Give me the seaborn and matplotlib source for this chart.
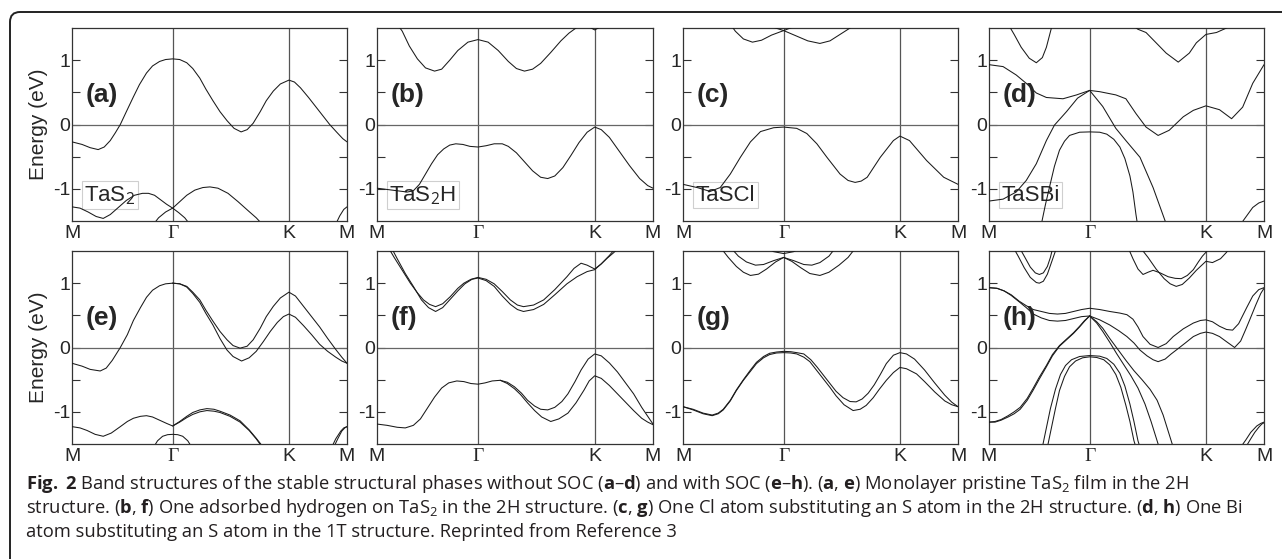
import pandas as pd
import seaborn as sns
import matplotlib.pyplot as plt
from matplotlib.patches import FancyBboxPatch

# camino de alta simetría M-Γ-K-M (distancias en unidades de |ΓM|)
K_TICKS = [0.0, 1.0, 2.155, 2.732]
K_NAMES = ['M', 'Γ', 'K', 'M']
Y_TICKS = [-1, 0, 1]
Y_NAMES = ['-1', '0', '1']

# ---------- (a) TaS2 sin SOC ----------
a_cb = [(0, -0.27), (0.1, -0.31), (0.18, -0.36), (0.26, -0.39), (0.32, -0.35), (0.38, -0.25),
        (0.43, -0.13), (0.48, 0.0), (0.54, 0.2), (0.61, 0.43), (0.67, 0.62), (0.74, 0.80),
        (0.8, 0.91), (0.87, 0.98), (0.93, 1.01), (1.0, 1.02), (1.07, 1.01), (1.14, 0.96),
        (1.2, 0.87), (1.27, 0.72), (1.33, 0.55), (1.40, 0.37), (1.47, 0.2), (1.54, 0.06),
        (1.61, -0.06), (1.68, -0.115), (1.74, -0.08), (1.8, 0.02), (1.87, 0.2), (1.93, 0.37),
        (2.0, 0.52), (2.07, 0.63), (2.155, 0.69), (2.21, 0.66), (2.27, 0.57), (2.35, 0.42),
        (2.42, 0.28), (2.5, 0.12), (2.56, 0.0), (2.63, -0.12), (2.69, -0.22), (2.732, -0.27)]
a_v1 = [(0, -1.28), (0.08, -1.30), (0.16, -1.36), (0.24, -1.43), (0.31, -1.46), (0.38, -1.40),
        (0.46, -1.29), (0.54, -1.18), (0.62, -1.10), (0.7, -1.07), (0.76, -1.07), (0.82, -1.10),
        (0.88, -1.17), (0.94, -1.24), (1.0, -1.30), (1.06, -1.37), (1.12, -1.45), (1.17, -1.55)]
a_v2 = [(0.81, -1.55), (0.86, -1.45), (0.93, -1.36), (1.0, -1.30), (1.07, -1.2), (1.14, -1.1),
        (1.22, -1.02), (1.30, -0.98), (1.37, -0.97), (1.45, -0.99), (1.55, -1.07), (1.65, -1.2),
        (1.75, -1.34), (1.83, -1.45), (1.89, -1.55)]
a_v3 = [(2.62, -1.55), (2.66, -1.42), (2.7, -1.32), (2.732, -1.28)]

# ---------- (b) TaS2H sin SOC ----------
b_vb = [(0, -0.99), (0.1, -1.01), (0.2, -1.03), (0.3, -1.05), (0.36, -1.03), (0.42, -0.93),
        (0.48, -0.77), (0.54, -0.61), (0.6, -0.47), (0.66, -0.38), (0.72, -0.32), (0.78, -0.30),
        (0.85, -0.31), (0.92, -0.34), (1.0, -0.35), (1.08, -0.33), (1.16, -0.30), (1.24, -0.30),
        (1.3, -0.34), (1.38, -0.44), (1.46, -0.58), (1.54, -0.72), (1.62, -0.82), (1.69, -0.84),
        (1.76, -0.80), (1.84, -0.67), (1.92, -0.48), (2.0, -0.28), (2.08, -0.12), (2.155, -0.04),
        (2.22, -0.08), (2.3, -0.2), (2.4, -0.42), (2.5, -0.64), (2.6, -0.84), (2.68, -0.95),
        (2.732, -0.99)]
b_cb = [(0.2, 1.56), (0.25, 1.45), (0.32, 1.22), (0.4, 1.02), (0.48, 0.88), (0.57, 0.83),
        (0.64, 0.86), (0.72, 1.0), (0.8, 1.15), (0.9, 1.28), (1.0, 1.32), (1.1, 1.28), (1.2, 1.15),
        (1.3, 0.98), (1.38, 0.87), (1.46, 0.83), (1.54, 0.86), (1.62, 0.95), (1.72, 1.12),
        (1.82, 1.3), (1.9, 1.42), (1.97, 1.5), (2.02, 1.56)]
b_c2 = [(2.08, 1.56), (2.12, 1.5), (2.155, 1.47), (2.19, 1.5), (2.23, 1.56)]

# ---------- (c) TaSCl sin SOC ----------
c_vb = [(0, -0.93), (0.14, -0.98), (0.27, -1.04), (0.37, -0.98), (0.47, -0.77), (0.57, -0.51),
        (0.67, -0.27), (0.77, -0.11), (0.9, -0.05), (1.0, -0.04), (1.13, -0.06), (1.23, -0.14),
        (1.33, -0.30), (1.43, -0.51), (1.56, -0.77), (1.64, -0.87), (1.71, -0.90), (1.77, -0.88),
        (1.83, -0.82), (1.96, -0.51), (2.09, -0.25), (2.155, -0.18), (2.25, -0.25), (2.42, -0.56),
        (2.59, -0.82), (2.732, -0.93)]
c_c1 = [(0.47, 1.56), (0.52, 1.45), (0.6, 1.33), (0.69, 1.28), (0.78, 1.31), (0.88, 1.39),
        (1.0, 1.46), (1.1, 1.52), (1.16, 1.56)]
c_c2 = [(0.82, 1.56), (0.9, 1.51), (1.0, 1.46), (1.12, 1.38), (1.24, 1.3), (1.36, 1.26),
        (1.46, 1.3), (1.56, 1.4), (1.66, 1.5), (1.7, 1.56)]

# ---------- (d) TaSBi sin SOC ----------
d_b1 = [(0, 0.93), (0.14, 0.90), (0.27, 0.77), (0.37, 0.64), (0.47, 0.49), (0.57, 0.42),
        (0.735, 0.40), (0.87, 0.46), (1.0, 0.53), (1.10, 0.51), (1.26, 0.46), (1.36, 0.40),
        (1.46, 0.17), (1.56, -0.04), (1.68, -0.17), (1.79, -0.09), (1.93, 0.12), (2.03, 0.22),
        (2.155, 0.29), (2.29, 0.23), (2.41, 0.09), (2.52, 0.27), (2.62, 0.64), (2.732, 0.93)]
d_b2 = [(0, -1.19), (0.14, -1.16), (0.27, -1.05), (0.37, -0.87), (0.47, -0.61), (0.57, -0.25),
        (0.65, -0.01), (0.77, 0.20), (0.88, 0.41), (1.0, 0.53), (1.13, 0.28), (1.26, -0.06),
        (1.36, -0.25), (1.50, -0.51), (1.63, -0.98), (1.75, -1.5), (1.76, -1.55)]
d_b3 = [(0.52, -1.55), (0.56, -1.25), (0.6, -0.98), (0.65, -0.65), (0.7, -0.40), (0.75, -0.26),
        (0.8, -0.17), (0.9, -0.12), (1.0, -0.115), (1.1, -0.12), (1.17, -0.15), (1.24, -0.23),
        (1.3, -0.35), (1.35, -0.53), (1.4, -0.8), (1.43, -1.05), (1.46, -1.4), (1.475, -1.55)]
d_b4 = [(0.19, 1.56), (0.25, 1.4), (0.32, 1.2), (0.4, 1.03), (0.47, 0.96), (0.53, 1.04),
        (0.57, 1.2), (0.6, 1.38), (0.63, 1.56)]
d_b5 = [(1.41, 1.56), (1.48, 1.48), (1.56, 1.43), (1.66, 1.27), (1.76, 1.11), (1.88, 0.97),
        (1.99, 1.11), (2.06, 1.27), (2.155, 1.40), (2.26, 1.43), (2.36, 1.5), (2.4, 1.56)]
d_b6 = [(2.5, -1.55), (2.56, -1.42), (2.62, -1.29), (2.68, -1.22), (2.732, -1.19)]

# ---------- (e) TaS2 con SOC ----------
e_left = [(0, -0.245), (0.1, -0.29), (0.18, -0.34), (0.28, -0.365), (0.34, -0.32), (0.4, -0.2),
          (0.48, 0.0), (0.55, 0.2), (0.61, 0.42), (0.68, 0.62), (0.74, 0.78), (0.8, 0.89),
          (0.87, 0.96), (0.93, 0.99), (1.0, 1.0)]
e_A = [(1.0, 1.0), (1.07, 0.99), (1.14, 0.95), (1.2, 0.86), (1.27, 0.74), (1.33, 0.58), (1.4, 0.41),
       (1.47, 0.25), (1.54, 0.12), (1.6, 0.03), (1.67, -0.01), (1.74, 0.02), (1.8, 0.12),
       (1.87, 0.3), (1.93, 0.48), (2.0, 0.64), (2.07, 0.77), (2.155, 0.86), (2.22, 0.8),
       (2.3, 0.64), (2.38, 0.48), (2.46, 0.32), (2.54, 0.14), (2.62, -0.03), (2.68, -0.15),
       (2.732, -0.245)]
e_B = [(1.0, 1.0), (1.07, 0.99), (1.14, 0.94), (1.2, 0.84), (1.27, 0.7), (1.33, 0.53), (1.4, 0.35),
       (1.47, 0.14), (1.54, -0.04), (1.6, -0.14), (1.685, -0.21), (1.76, -0.16), (1.83, -0.06),
       (1.9, 0.09), (1.97, 0.25), (2.04, 0.39), (2.1, 0.48), (2.155, 0.52), (2.22, 0.47),
       (2.3, 0.34), (2.38, 0.2), (2.46, 0.05), (2.54, -0.06), (2.62, -0.15), (2.68, -0.21),
       (2.732, -0.245)]
e_L1 = [(0, -1.23), (0.08, -1.25), (0.15, -1.29), (0.23, -1.35), (0.31, -1.38), (0.39, -1.33),
        (0.48, -1.23), (0.55, -1.15), (0.61, -1.10), (0.68, -1.07), (0.74, -1.06), (0.8, -1.08),
        (0.87, -1.13), (0.94, -1.18), (1.0, -1.22), (1.07, -1.15), (1.14, -1.07), (1.2, -1.01),
        (1.27, -0.97), (1.34, -0.95), (1.41, -0.96), (1.47, -0.99), (1.57, -1.05), (1.67, -1.14),
        (1.76, -1.28), (1.83, -1.41), (1.9, -1.55)]
e_L2 = [(1.0, -1.22), (1.07, -1.16), (1.14, -1.09), (1.2, -1.04), (1.27, -1.0), (1.34, -0.98),
        (1.41, -0.99), (1.47, -1.01), (1.57, -1.07), (1.67, -1.16), (1.76, -1.29), (1.83, -1.42),
        (1.89, -1.55)]
e_cap = [(0.81, -1.55), (0.85, -1.45), (0.9, -1.38), (0.95, -1.355), (1.0, -1.35), (1.05, -1.355),
         (1.1, -1.38), (1.15, -1.45), (1.19, -1.55)]
e_M1 = [(2.58, -1.55), (2.62, -1.42), (2.67, -1.3), (2.7, -1.25), (2.732, -1.23)]
e_M2 = [(2.6, -1.55), (2.64, -1.42), (2.68, -1.3), (2.71, -1.25), (2.732, -1.23)]

# ---------- (f) TaS2H con SOC ----------
f_left = [(0, -1.19), (0.1, -1.21), (0.2, -1.24), (0.28, -1.25), (0.36, -1.21), (0.43, -1.11),
          (0.5, -0.94), (0.57, -0.77), (0.64, -0.63), (0.71, -0.55), (0.79, -0.52), (0.86, -0.53),
          (0.93, -0.56), (1.0, -0.57), (1.07, -0.55), (1.14, -0.52), (1.22, -0.51)]
f_vA = [(1.22, -0.51), (1.29, -0.54), (1.36, -0.61), (1.43, -0.71), (1.49, -0.82), (1.56, -0.91),
        (1.62, -0.96), (1.69, -0.97), (1.76, -0.93), (1.83, -0.84), (1.89, -0.72), (1.96, -0.53),
        (2.02, -0.35), (2.09, -0.18), (2.155, -0.10), (2.22, -0.13), (2.3, -0.24), (2.38, -0.38),
        (2.46, -0.55), (2.54, -0.72), (2.62, -0.93), (2.68, -1.07), (2.732, -1.19)]
f_vB = [(1.22, -0.51), (1.29, -0.56), (1.36, -0.64), (1.42, -0.73), (1.49, -0.86), (1.56, -0.98),
        (1.63, -1.08), (1.72, -1.15), (1.8, -1.11), (1.89, -1.02), (1.97, -0.86), (2.05, -0.66),
        (2.1, -0.52), (2.155, -0.44), (2.22, -0.48), (2.3, -0.59), (2.38, -0.72), (2.46, -0.85),
        (2.54, -0.98), (2.62, -1.1), (2.68, -1.16), (2.732, -1.2)]
f_cA = [(0.11, 1.56), (0.17, 1.4), (0.25, 1.2), (0.33, 1.0), (0.4, 0.85), (0.46, 0.74),
        (0.52, 0.67), (0.58, 0.635), (0.65, 0.68), (0.725, 0.79), (0.8, 0.92), (0.86, 1.0),
        (0.93, 1.06), (1.0, 1.09), (1.08, 1.06), (1.16, 0.99), (1.24, 0.87), (1.32, 0.74),
        (1.39, 0.66), (1.45, 0.635), (1.55, 0.66), (1.65, 0.74), (1.76, 0.9), (1.88, 1.1),
        (1.95, 1.23), (2.02, 1.31), (2.08, 1.28), (2.155, 1.22), (2.22, 1.3), (2.28, 1.39),
        (2.34, 1.47), (2.4, 1.56)]
f_cB = [(0.14, 1.56), (0.2, 1.38), (0.28, 1.15), (0.36, 0.95), (0.44, 0.74), (0.51, 0.62),
        (0.58, 0.56), (0.65, 0.62), (0.725, 0.75), (0.8, 0.88), (0.87, 0.99), (0.94, 1.06),
        (1.0, 1.08), (1.08, 1.04), (1.16, 0.95), (1.24, 0.8), (1.32, 0.67), (1.39, 0.59),
        (1.45, 0.56), (1.55, 0.59), (1.65, 0.67), (1.76, 0.82), (1.88, 0.99), (1.98, 1.1),
        (2.08, 1.18), (2.155, 1.21), (2.22, 1.3), (2.3, 1.43), (2.37, 1.56)]

# ---------- (g) TaSCl con SOC ----------
g_A = [(0, -0.92), (0.1, -0.96), (0.2, -1.02), (0.29, -1.05), (0.35, -1.02), (0.4, -0.96),
       (0.47, -0.82), (0.53, -0.66), (0.6, -0.5), (0.67, -0.35), (0.73, -0.23), (0.8, -0.14),
       (0.86, -0.09), (0.93, -0.07), (1.0, -0.06), (1.07, -0.065), (1.13, -0.08), (1.2, -0.1),
       (1.27, -0.19), (1.33, -0.3), (1.39, -0.42), (1.46, -0.56), (1.52, -0.68), (1.59, -0.78),
       (1.66, -0.84), (1.72, -0.845), (1.78, -0.8), (1.84, -0.71), (1.9, -0.58), (1.96, -0.42),
       (2.02, -0.25), (2.09, -0.12), (2.155, -0.08), (2.22, -0.1), (2.3, -0.18), (2.4, -0.35),
       (2.5, -0.55), (2.6, -0.74), (2.67, -0.85), (2.732, -0.92)]
g_B = [(0, -0.92), (0.1, -0.97), (0.2, -1.03), (0.29, -1.06), (0.35, -1.03), (0.4, -0.97),
       (0.47, -0.83), (0.53, -0.67), (0.6, -0.51), (0.67, -0.37), (0.73, -0.25), (0.8, -0.16),
       (0.86, -0.11), (0.93, -0.085), (1.0, -0.08), (1.07, -0.085), (1.13, -0.1), (1.2, -0.15),
       (1.26, -0.22), (1.33, -0.36), (1.39, -0.48), (1.46, -0.62), (1.52, -0.75), (1.6, -0.89),
       (1.69, -0.98), (1.76, -0.96), (1.82, -0.9), (1.89, -0.78), (1.95, -0.65), (2.02, -0.51),
       (2.09, -0.39), (2.155, -0.31), (2.22, -0.33), (2.32, -0.41), (2.4, -0.53), (2.5, -0.69),
       (2.6, -0.83), (2.67, -0.89), (2.732, -0.92)]
g_c1 = [(0.37, 1.56), (0.45, 1.4), (0.53, 1.26), (0.6, 1.17), (0.67, 1.12), (0.75, 1.14),
        (0.83, 1.22), (0.92, 1.33), (1.0, 1.40), (1.08, 1.34), (1.17, 1.24), (1.26, 1.15),
        (1.36, 1.12), (1.45, 1.17), (1.55, 1.28), (1.64, 1.4), (1.72, 1.56)]
g_c2 = [(0.47, 1.56), (0.55, 1.42), (0.63, 1.33), (0.72, 1.28), (0.8, 1.29), (0.9, 1.35),
        (1.0, 1.40), (1.1, 1.35), (1.2, 1.29), (1.28, 1.28), (1.36, 1.32), (1.45, 1.42),
        (1.52, 1.56)]
g_c3 = [(0.82, 1.56), (0.9, 1.49), (1.0, 1.46), (1.1, 1.49), (1.18, 1.56)]

# ---------- (h) TaSBi con SOC ----------
h_A = [(0, 0.93), (0.08, 0.92), (0.15, 0.88), (0.22, 0.82), (0.3, 0.72), (0.37, 0.65), (0.44, 0.59),
       (0.52, 0.56), (0.6, 0.53), (0.68, 0.52), (0.76, 0.53), (0.84, 0.56), (0.92, 0.59),
       (1.0, 0.61), (1.1, 0.59), (1.2, 0.56), (1.3, 0.535), (1.37, 0.51), (1.43, 0.44),
       (1.48, 0.32), (1.53, 0.17), (1.6, 0.05), (1.68, 0.0), (1.76, 0.06), (1.83, 0.17),
       (1.93, 0.29), (2.03, 0.38), (2.1, 0.42), (2.155, 0.43), (2.22, 0.4), (2.29, 0.33),
       (2.36, 0.28), (2.42, 0.27), (2.48, 0.37), (2.56, 0.62), (2.62, 0.8), (2.68, 0.9),
       (2.732, 0.93)]
h_B = [(0, 0.93), (0.08, 0.92), (0.15, 0.88), (0.22, 0.81), (0.3, 0.71), (0.37, 0.62), (0.44, 0.52),
       (0.52, 0.46), (0.6, 0.42), (0.68, 0.41), (0.76, 0.42), (0.84, 0.45), (0.92, 0.48),
       (1.0, 0.49), (1.1, 0.43), (1.2, 0.35), (1.29, 0.26), (1.37, 0.17), (1.44, 0.07),
       (1.5, -0.04), (1.57, -0.13), (1.63, -0.19), (1.68, -0.22), (1.75, -0.18), (1.81, -0.1),
       (1.86, -0.04), (1.95, 0.07), (2.03, 0.17), (2.1, 0.22), (2.155, 0.24), (2.22, 0.22),
       (2.29, 0.17), (2.36, 0.09), (2.44, 0.0), (2.5, 0.1), (2.55, 0.28), (2.59, 0.43),
       (2.65, 0.66), (2.7, 0.84), (2.732, 0.92)]
h_D1 = [(0, -1.16), (0.06, -1.16), (0.12, -1.13), (0.19, -1.08), (0.25, -1.03), (0.31, -0.96),
        (0.38, -0.82), (0.44, -0.66), (0.5, -0.49), (0.57, -0.3), (0.63, -0.13), (0.7, 0.02),
        (0.77, 0.12), (0.84, 0.22), (0.9, 0.32), (0.95, 0.41), (1.0, 0.49)]
h_D2 = [(0, -1.16), (0.06, -1.15), (0.12, -1.12), (0.19, -1.06), (0.25, -1.0), (0.31, -0.93),
        (0.38, -0.79), (0.44, -0.63), (0.5, -0.46), (0.57, -0.28), (0.63, -0.11), (0.7, 0.03),
        (0.77, 0.13), (0.84, 0.23), (0.9, 0.33), (0.95, 0.42), (1.0, 0.49)]
h_S1 = [(1.0, 0.49), (1.07, 0.38), (1.13, 0.25), (1.2, 0.08), (1.27, -0.1), (1.34, -0.27),
        (1.41, -0.44), (1.48, -0.63), (1.55, -0.88), (1.61, -1.15), (1.66, -1.4), (1.69, -1.55)]
h_S2 = [(1.0, 0.49), (1.07, 0.4), (1.13, 0.3), (1.2, 0.14), (1.28, -0.03), (1.36, -0.2),
        (1.44, -0.36), (1.52, -0.5), (1.6, -0.65), (1.67, -0.82), (1.73, -1.05), (1.78, -1.3),
        (1.83, -1.55)]
h_P1 = [(0.53, -1.55), (0.57, -1.25), (0.61, -0.95), (0.66, -0.65), (0.71, -0.42), (0.76, -0.28),
        (0.82, -0.19), (0.9, -0.14), (1.0, -0.125), (1.1, -0.135), (1.17, -0.17), (1.24, -0.26),
        (1.3, -0.4), (1.35, -0.6), (1.4, -0.88), (1.44, -1.15), (1.48, -1.45), (1.5, -1.55)]
h_P2 = [(0.58, -1.55), (0.62, -1.25), (0.66, -0.95), (0.7, -0.67), (0.75, -0.45), (0.8, -0.3),
        (0.86, -0.21), (0.93, -0.16), (1.0, -0.145), (1.07, -0.155), (1.14, -0.19), (1.2, -0.27),
        (1.26, -0.42), (1.31, -0.62), (1.36, -0.9), (1.4, -1.15), (1.44, -1.45), (1.46, -1.55)]
h_T1 = [(0.24, 1.56), (0.29, 1.42), (0.35, 1.24), (0.41, 1.09), (0.47, 1.01), (0.5, 1.0),
        (0.54, 1.03), (0.58, 1.14), (0.62, 1.32), (0.66, 1.5), (0.67, 1.56)]
h_T2 = [(0.3, 1.56), (0.35, 1.42), (0.41, 1.25), (0.46, 1.16), (0.5, 1.135), (0.54, 1.16),
        (0.58, 1.26), (0.61, 1.4), (0.635, 1.56)]
h_R1 = [(1.38, 1.56), (1.43, 1.38), (1.48, 1.22), (1.53, 1.135), (1.58, 1.17), (1.63, 1.2),
        (1.7, 1.16), (1.78, 1.1), (1.85, 1.075), (1.91, 1.07), (1.97, 1.12), (2.03, 1.21),
        (2.08, 1.33), (2.12, 1.42), (2.155, 1.48), (2.19, 1.56)]
h_R2 = [(1.5, 1.56), (1.58, 1.4), (1.66, 1.22), (1.74, 1.07), (1.8, 0.99), (1.86, 0.95),
        (1.92, 0.98), (1.99, 1.08), (2.06, 1.2), (2.155, 1.34), (2.22, 1.32), (2.3, 1.38),
        (2.36, 1.48), (2.39, 1.56)]
h_M1 = [(2.5, -1.55), (2.55, -1.44), (2.6, -1.32), (2.66, -1.22), (2.7, -1.18), (2.732, -1.16)]
h_M2 = [(2.55, -1.55), (2.6, -1.42), (2.64, -1.32), (2.68, -1.24), (2.71, -1.19), (2.732, -1.17)]

PANELS = [
    ('(a)', 'TaS$_2$', [a_cb, a_v1, a_v2, a_v3]),
    ('(b)', 'TaS$_2$H', [b_vb, b_cb, b_c2]),
    ('(c)', 'TaSCl', [c_vb, c_c1, c_c2]),
    ('(d)', 'TaSBi', [d_b1, d_b2, d_b3, d_b4, d_b5, d_b6]),
    ('(e)', None, [e_left, e_A, e_B, e_L1, e_L2, e_cap, e_M1, e_M2]),
    ('(f)', None, [f_left, f_vA, f_vB, f_cA, f_cB]),
    ('(g)', None, [g_A, g_B, g_c1, g_c2, g_c3]),
    ('(h)', None, [h_A, h_B, h_D1, h_D2, h_S1, h_S2, h_P1, h_P2, h_T1, h_T2, h_R1, h_R2, h_M1, h_M2]),
]

CAPTION = [
    r"$\mathbf{Fig.}$ $\mathbf{2}$ Band structures of the stable structural phases without SOC ($\mathbf{a}$–$\mathbf{d}$)"
    r" and with SOC ($\mathbf{e}$–$\mathbf{h}$). ($\mathbf{a}$, $\mathbf{e}$) Monolayer pristine TaS$_2$ film in the 2H",
    r"structure. ($\mathbf{b}$, $\mathbf{f}$) One adsorbed hydrogen on TaS$_2$ in the 2H structure. "
    r"($\mathbf{c}$, $\mathbf{g}$) One Cl atom substituting an S atom in the 2H structure. ($\mathbf{d}$, $\mathbf{h}$) One Bi",
    "atom substituting an S atom in the 1T structure. Reprinted from Reference 3",
]

# tabla larga para seaborn
rows = []
for tag, name, bands in PANELS:
    for i, band in enumerate(bands):
        for j, (k, e) in enumerate(band):
            rows.append((tag, i, j, k, e))
df = pd.DataFrame(rows, columns=['panel', 'band', 'order', 'k', 'E'])

sns.set_theme(style='white')
plt.rcParams['font.family'] = ['Liberation Sans', 'DejaVu Sans']
plt.rcParams['mathtext.fontset'] = 'custom'
plt.rcParams['mathtext.rm'] = 'Open Sans'
plt.rcParams['mathtext.bf'] = 'Open Sans:bold'
plt.rcParams['mathtext.it'] = 'Open Sans:italic'

W, H = 1282, 559
fig = plt.figure(figsize=(W / 100, H / 100), dpi=100)
fig.patch.set_facecolor('white')

col_left = [72, 377, 683, 989]
col_width = [275, 276, 275, 275]
row_top = [28, 251]
ax_h = 193

for idx, (tag, name, bands) in enumerate(PANELS):
    r, c = divmod(idx, 4)
    ax = fig.add_axes([col_left[c] / W, (H - row_top[r] - ax_h) / H, col_width[c] / W, ax_h / H])
    sub = df[df['panel'] == tag]
    sns.lineplot(data=sub, x='k', y='E', units='band', estimator=None, sort=False,
                 color='#1a1a1a', lw=0.75, ax=ax, legend=False, zorder=3)
    for kx in K_TICKS[1:3]:
        ax.axvline(kx, color='#555555', lw=0.9, zorder=1)
    ax.axhline(0, color='#666666', lw=0.9, zorder=1)
    ax.set_xlim(0, 2.732)
    ax.set_ylim(-1.5, 1.5)
    ax.set_xticks(K_TICKS)
    ax.set_xticklabels(K_NAMES, fontsize=14)
    ax.get_xticklabels()[1].set_fontfamily('Liberation Serif')
    ax.set_yticks(Y_TICKS)
    ax.set_yticklabels(Y_NAMES, fontsize=14)
    ax.set_yticks([-0.5, 0.5], minor=True)
    ax.tick_params(axis='x', length=0, pad=3)
    ax.tick_params(axis='y', which='both', direction='in', left=True, right=True,
                   length=6, width=0.8, color='#333333', pad=1)
    for sp in ax.spines.values():
        sp.set_color('#333333')
        sp.set_linewidth(0.9)
    ax.set_xlabel('')
    ax.set_ylabel('Energy (eV)' if c == 0 else '', fontsize=15, labelpad=4)
    ax.text(0.05, 0.46, tag, transform=ax.get_yaxis_transform(), fontsize=19,
            fontweight='bold', va='center', ha='left', zorder=4)
    if name:
        ax.text(0.045, -1.1, name, transform=ax.get_yaxis_transform(), fontsize=16,
                va='center', ha='left', zorder=2,
                bbox=dict(boxstyle='square,pad=0.12', fc='none', ec='#cfcfcf', lw=0.8))

for line, yb in zip(CAPTION, [489, 513, 537]):
    fig.text(26 / W, (H - yb) / H, line, fontsize=13.2, va='baseline', ha='left',
             color='#231f20', family=['Open Sans', 'DejaVu Sans'])

# marco redondeado, cortado a la derecha y abajo
fig.add_artist(FancyBboxPatch((0.10, -0.5), 13.0, 5.97, boxstyle='round,pad=0,rounding_size=0.1',
                              transform=fig.dpi_scale_trans, fill=False, ec='#222222', lw=1.4))

fig.savefig('out.png', dpi=100)
